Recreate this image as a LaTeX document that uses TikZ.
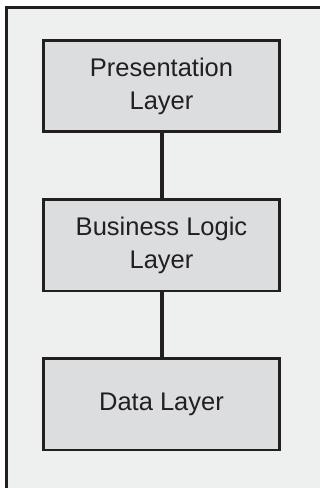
\documentclass[tikz,border=0pt]{standalone}
\usepackage{fontspec}
\setmainfont{Liberation Sans}
\usepackage{xcolor}
\usetikzlibrary{positioning}
\definecolor{framefill}{HTML}{EEF0EF}
\definecolor{layerfill}{HTML}{DCDDDF}
\definecolor{inkline}{HTML}{231F20}

\begin{document}
\begin{tikzpicture}[x=1pt,y=1pt,
    layer/.style={draw=inkline,line width=2.6pt,fill=layerfill,text=inkline,
      minimum width=236.5pt,minimum height=91.5pt,align=center,inner sep=0pt,
      font=\fontsize{25.5}{33}\selectfont},
    link/.style={draw=inkline,line width=4pt}]
        \useasboundingbox (0,0) rectangle (320,-488);
        \draw[draw=inkline,line width=2.6pt,fill=framefill] (6.5,-7.3) rectangle (340,-510);
        \node[layer] (pres) at (161.5,-86) {Presentation\\Layer};
        \node[layer,below=65pt of pres] (logic) {Business Logic\\Layer};
        \node[layer,below=65pt of logic] (data) {Data Layer};
        \draw[link] (pres) -- (logic);
        \draw[link] (logic) -- (data);
\end{tikzpicture}
\end{document}
